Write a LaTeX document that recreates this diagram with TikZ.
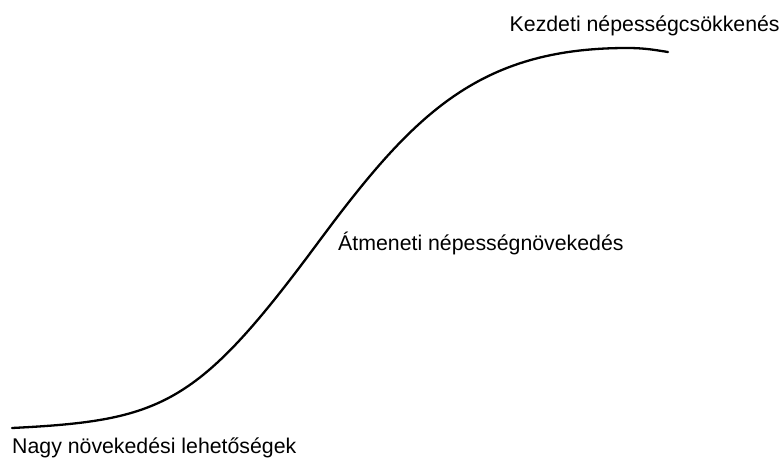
\documentclass[tikz,border=0pt]{standalone}
\usepackage{fontspec}
\setmainfont{Liberation Sans}
\begin{document}
\begin{tikzpicture}[x=1pt,y=-1pt]
\tikzset{lbl/.style={anchor=base west,inner sep=0pt,font=\fontsize{21.3}{25}\selectfont}}
\useasboundingbox (0,0) rectangle (782,458);
\coordinate (s) at (12,428);
\coordinate (m) at (317,244);
\coordinate (p) at (627,48);
\coordinate (e) at (668,52);
\draw[line width=2.3pt,line cap=round]
  (s) .. controls (162,420.5) and (197,406) .. (m)
      .. controls (412,115.75) and (477,48) .. (p)
      .. controls (645,48) and (655,50) .. (e);
\node[lbl] (low) at (12,453) {Nagy növekedési lehetőségek};
\node[lbl] (mid) at (338,250) {Átmeneti népességnövekedés};
\node[lbl] (top) at (509.5,31.5) {Kezdeti népességcsökkenés};
\end{tikzpicture}
\end{document}
